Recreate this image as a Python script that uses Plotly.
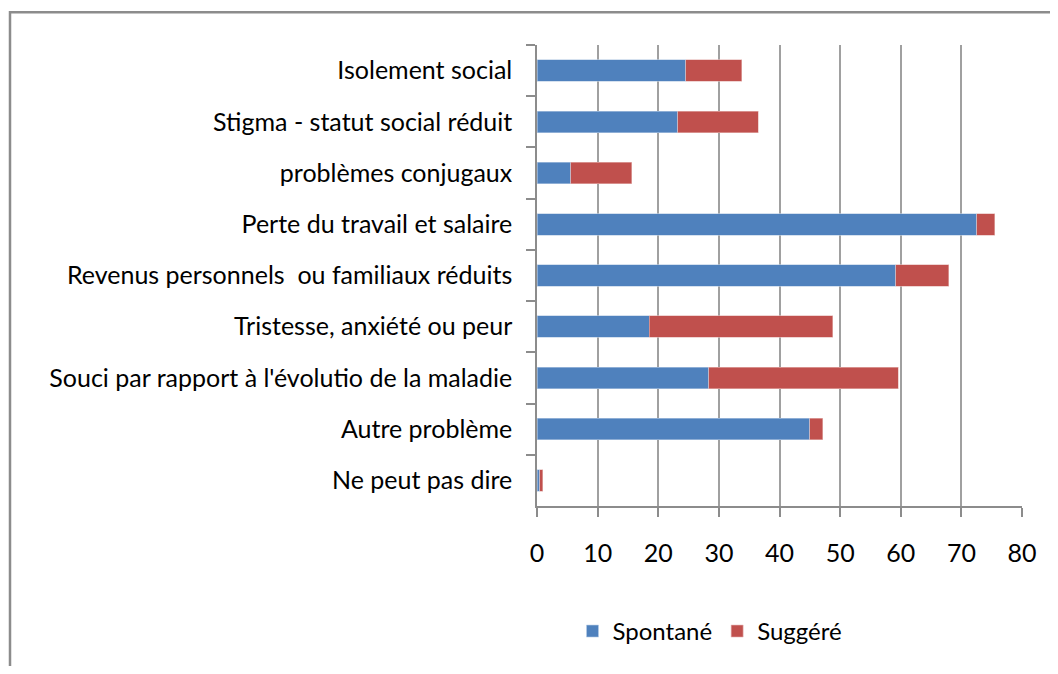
import plotly.graph_objects as go

categories = [
    "Isolement social",
    "Stigma - statut social réduit",
    "problèmes conjugaux",
    "Perte du travail et salaire",
    "Revenus personnels  ou familiaux réduits",
    "Tristesse, anxiété ou peur",
    "Souci par rapport à l'évolutio de la maladie",
    "Autre problème",
    "Ne peut pas dire",
]
spontane = [24.5, 23.2, 5.6, 72.5, 59.2, 18.5, 28.3, 45.0, 0.45]
suggere = [9.3, 13.3, 10.0, 3.0, 8.7, 30.3, 31.3, 2.1, 0.5]
x_ticks = [0, 10, 20, 30, 40, 50, 60, 70, 80]

FONT = "Lato"
OFF = 8  # default page body margin
W, H = 1058 - 2 * OFF, 674 - 2 * OFF
L, R, T, B = 537 - OFF, 1022 - OFF, 45 - OFF, 508 - OFF

fig = go.Figure()
fig.add_trace(go.Bar(y=categories, x=spontane, orientation="h", name="Spontané",
                     marker=dict(color="#4F81BD", line=dict(color="#B9CDE5", width=0.6))))
fig.add_trace(go.Bar(y=categories, x=suggere, orientation="h", name="Suggéré",
                     marker=dict(color="#C0504D", line=dict(color="#E6B9B8", width=0.6))))

pw, ph = R - L, B - T
fig.update_layout(
    width=W, height=H,
    barmode="stack", bargap=0.58,
    plot_bgcolor="white", paper_bgcolor="white",
    margin=dict(l=L, r=W - R, t=T, b=H - B, pad=0),
    font=dict(family=FONT, size=25, color="#000000"),
    showlegend=True,
    legend=dict(orientation="h", x=(710 - OFF - L) / pw, xanchor="center",
                y=(B - (634 - OFF)) / ph, yanchor="middle",
                font=dict(family=FONT, size=24), itemwidth=30, traceorder="normal"),
    xaxis=dict(range=[0, 80], tickvals=x_ticks, ticktext=[str(v) for v in x_ticks],
               showgrid=True, gridcolor="#A0A0A0", gridwidth=1.5,
               showline=True, linecolor="#8C8C8C", linewidth=1.5,
               ticks="outside", ticklen=9, tickcolor="#8C8C8C", tickwidth=1.5,
               ticklabelstandoff=15, zeroline=False, fixedrange=True,
               tickfont=dict(family=FONT, size=25)),
    yaxis=dict(categoryorder="array", categoryarray=categories, autorange="reversed",
               showgrid=False, showline=True, linecolor="#8C8C8C", linewidth=1.5,
               ticks="outside", ticklen=9, tickcolor="#8C8C8C", tickwidth=1.5,
               tickson="boundaries", ticklabelstandoff=18,
               tickfont=dict(family=FONT, size=25)),
    shapes=[dict(type="rect", xref="paper", yref="paper",
                 x0=(10 - OFF - L) / pw, x1=(1100 - L) / pw,
                 y0=(B - 720) / ph, y1=(B - (12 - OFF)) / ph,
                 line=dict(color="#8C8C8C", width=2.5), layer="below")],
)

fig.write_html("out.html")
